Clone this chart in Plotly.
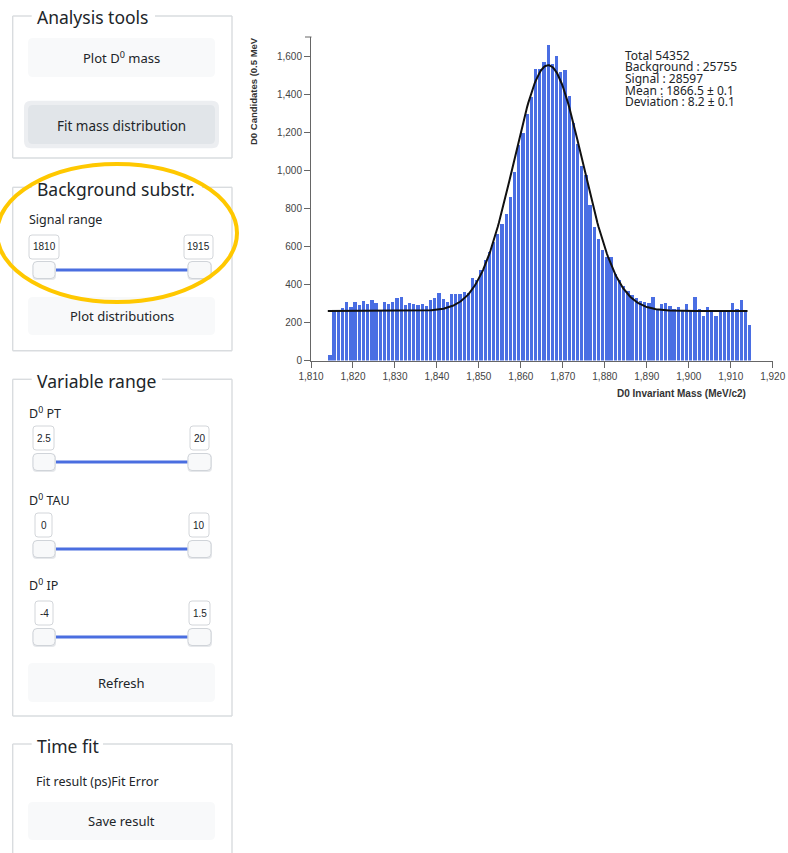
import math
import plotly.graph_objects as go

# ---------------- data ----------------
# D0 invariant-mass histogram, 1 MeV bins, centres 1814.5 ... 1914.5
bin_centers = [1814.5 + i for i in range(101)]
counts = [
    30, 265, 263, 275, 308, 280, 308, 292, 313, 298,
    320, 303, 265, 305, 295, 307, 330, 333, 292, 302,
    298, 292, 298, 285, 318, 328, 355, 325, 310, 352,
    350, 350, 360, 355, 432, 425, 474, 526, 572, 623,
    667, 719, 772, 860, 991, 1132, 1196, 1298, 1386, 1530,
    1530, 1570, 1658, 1556, 1600, 1515, 1526, 1390, 1246, 1140,
    1020, 974, 815, 702, 640, 579, 544, 544, 456, 421,
    390, 365, 345, 330, 315, 308, 300, 333, 272, 295,
    302, 284, 272, 281, 266, 298, 263, 333, 272, 232,
    281, 263, 232, 263, 266, 266, 302, 272, 316, 258,
    189,
]

# fit summary
fit_total = 54352
fit_background = 25755
fit_signal = 28597
fit_mean = 1866.5
fit_mean_err = 0.1
fit_sigma = 8.2
fit_sigma_err = 0.1
fit_bkg_level = 260      # flat background per bin
fit_peak_height = 1292   # gaussian amplitude per bin
fit_x_min, fit_x_max = 1814.0, 1914.0

x_ticks = list(range(1810, 1921, 10))

# ---------------- helpers ----------------
W, H = 788, 853
UI = "Segoe UI, Noto Sans, Open Sans, sans-serif"
AX = "Liberation Sans, Arial, sans-serif"
TXT = "#212529"


def fx(x):
    return x / W


def fy(y):
    return 1 - y / H


shapes = []
annotations = []


def line(x0, y0, x1, y1, color, width):
    shapes.append(dict(type="line", xref="paper", yref="paper",
                       x0=fx(x0), y0=fy(y0), x1=fx(x1), y1=fy(y1),
                       line=dict(color=color, width=width)))


def rrect(x0, y0, x1, y1, r, fill, edge=None, lw=0):
    X, Y = fx, fy
    p = (f"M {X(x0 + r)},{Y(y0)} L {X(x1 - r)},{Y(y0)} "
         f"Q {X(x1)},{Y(y0)} {X(x1)},{Y(y0 + r)} L {X(x1)},{Y(y1 - r)} "
         f"Q {X(x1)},{Y(y1)} {X(x1 - r)},{Y(y1)} L {X(x0 + r)},{Y(y1)} "
         f"Q {X(x0)},{Y(y1)} {X(x0)},{Y(y1 - r)} L {X(x0)},{Y(y0 + r)} "
         f"Q {X(x0)},{Y(y0)} {X(x0 + r)},{Y(y0)} Z")
    shapes.append(dict(type="path", xref="paper", yref="paper", path=p,
                       fillcolor=fill,
                       line=dict(color=edge if edge else fill, width=lw)))


def text(x, y, s, size, color=TXT, anchor="left", family=UI, angle=0,
         yanchor="middle"):
    annotations.append(dict(xref="paper", yref="paper", x=fx(x), y=fy(y),
                            text=s, showarrow=False, xanchor=anchor,
                            yanchor=yanchor, textangle=angle,
                            font=dict(size=size, color=color, family=family)))


def fieldset(y0, y1, gap_end, title):
    c, w = "#d9dcdf", 1.4
    line(12.7, y0, 31.7, y0, c, w)
    line(gap_end, y0, 232, y0, c, w)
    line(12.7, y0, 12.7, y1, c, w)
    line(232, y0, 232, y1, c, w)
    line(12.7, y1, 232, y1, c, w)
    text(35, y0 + 1.5, title, 17.5)


def button(y0, y1, label):
    rrect(28, y0, 215, y1, 5, "#f8f9fa")
    text(121.5, (y0 + y1) / 2, label, 13, anchor="center")


def slider(box_y0, track_y, lo, hi, lo_box, hi_box):
    for (bx0, bx1), val in ((lo_box, lo), (hi_box, hi)):
        rrect(bx0, box_y0, bx1, box_y0 + 24, 3, "#ffffff", "#d3d6da", 1)
        text((bx0 + bx1) / 2, box_y0 + 12, val, 10, family=AX, anchor="center")
    line(53, track_y, 190, track_y, "#4a6ee0", 3)
    for tx0, tx1 in ((33, 55), (188, 211)):
        rrect(tx0 - 0.5, track_y - 8, tx1 + 1, track_y + 10, 4, "#e6e8eb")
        rrect(tx0, track_y - 8.5, tx1, track_y + 8.5, 4, "#f8f9fa", "#d0d4d9", 1)


# ---------------- left control panel ----------------
fieldset(16, 158, 155, "Analysis tools")
button(38, 77, "Plot D<sup>0</sup> mass")
rrect(24, 100.7, 219, 148.3, 7, "#eceef1")
rrect(28, 105, 215, 144, 5, "#e1e5e9")
text(121.5, 125.5, "Fit mass distribution", 13.5, anchor="center")

fieldset(187.3, 350.7, 202, "Background substr.")
text(27, 220, "Signal range", 12.5)
slider(235, 270, "1810", "1915", (29, 59), (184, 213))
button(297, 335, "Plot distributions")

fieldset(379.3, 716, 162, "Variable range")
text(27, 413, "D<sup>0</sup> PT", 12.5)
slider(426, 462, "2.5", "20", (33, 54), (190, 209))
text(27, 500, "D<sup>0</sup> TAU", 12.5)
slider(513, 549, "0", "10", (35, 52), (189, 209))
text(27, 585, "D<sup>0</sup> IP", 12.5)
slider(601, 637, "-4", "1.5", (35, 53), (189, 210))
button(663, 702, "Refresh")

fieldset(744, 870, 103, "Time fit")
text(34, 781, "Fit result (ps)Fit Error", 12.5)
button(802, 840, "Save result")

# highlight ring around the signal-range control
shapes.append(dict(type="circle", xref="paper", yref="paper",
                   x0=fx(-3), x1=fx(237), y0=fy(302), y1=fy(164),
                   line=dict(color="#ffc800", width=4)))

# outer tick at the top of the y axis domain
line(305, 37, 311.5, 37, "#666666", 1)

# ---------------- histogram + fit ----------------
fig = go.Figure()
fig.add_trace(go.Bar(x=bin_centers, y=counts, width=0.78,
                     marker=dict(color="#4a6ee3", line=dict(width=0)),
                     showlegend=False, hoverinfo="x+y"))

n_pts = 401
fit_x = [fit_x_min + (fit_x_max - fit_x_min) * i / (n_pts - 1) for i in range(n_pts)]
fit_y = [fit_bkg_level + fit_peak_height *
         math.exp(-((v - fit_mean) ** 2) / (2 * fit_sigma ** 2)) for v in fit_x]
fig.add_trace(go.Scatter(x=fit_x, y=fit_y, mode="lines",
                         line=dict(color="#111111", width=2),
                         showlegend=False, hoverinfo="skip"))

# fit summary text
stats = [
    f"Total {fit_total}",
    f"Background : {fit_background}",
    f"Signal : {fit_signal}",
    f"Mean : {fit_mean} ± {fit_mean_err}",
    f"Deviation : {fit_sigma} ± {fit_sigma_err}",
]
for i, s in enumerate(stats):
    text(623, 55 + i * 11.7, s, 12)

# axis titles
text(253, 35, "<b>D0 Candidates (0.5 MeV</b>", 9.5, color="#333333",
     anchor="center", family=AX, angle=-90, yanchor="top")
text(748, 393, "<b>D0 Invariant Mass (MeV/c2)</b>", 10, color="#333333",
     anchor="right", family=AX)

fig.update_layout(
    width=W, height=H, autosize=False,
    margin=dict(l=0, r=0, t=0, b=0, pad=0, autoexpand=False),
    paper_bgcolor="white", plot_bgcolor="white",
    shapes=shapes, annotations=annotations,
    bargap=0,
    xaxis=dict(domain=[fx(311), fx(772.7)], range=[1810, 1920],
               tickvals=x_ticks, tickformat=",d", ticks="outside",
               ticklen=6, tickcolor="#666666", showline=True,
               linecolor="#666666", linewidth=1, showgrid=False,
               zeroline=False, automargin=False,
               tickfont=dict(size=10, color="#444444", family=AX)),
    yaxis=dict(domain=[fy(360.5), fy(37)], range=[0, 1700],
               tick0=0, dtick=200, tickformat=",d", ticks="outside",
               ticklen=6, tickcolor="#666666", showline=True,
               linecolor="#666666", linewidth=1, showgrid=False,
               zeroline=False, automargin=False,
               tickfont=dict(size=10, color="#444444", family=AX)),
)

fig.write_html("out.html")
